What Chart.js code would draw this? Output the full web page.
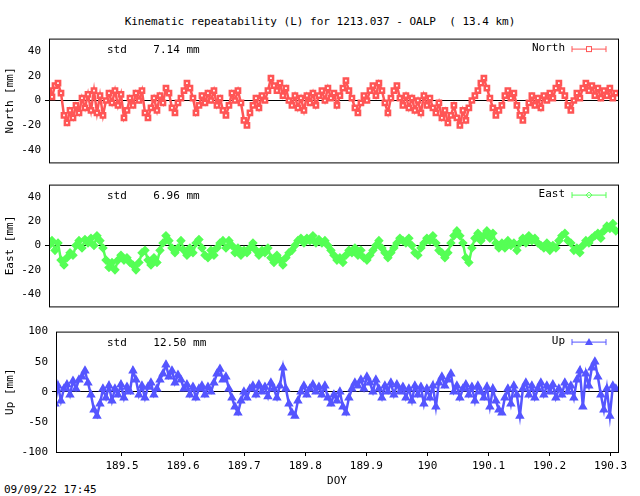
<!DOCTYPE html>
<html>
<head>
<meta charset="utf-8">
<script src="https://cdn.jsdelivr.net/npm/chart.js@4"></script>
<style>
  body { margin: 0; background: #fff; width: 640px; height: 496px; position: relative; overflow: hidden; font-family: "DejaVu Sans Mono", monospace; }
  canvas { position: absolute; left: 0; }
  .txt { position: absolute; font-size: 11px; color: #000; white-space: pre; }
</style>
</head>
<body>
<div class="txt" style="left:0;width:640px;text-align:center;top:15px;">Kinematic repeatability (L) for 1213.037 - OALP  ( 13.4 km)</div>
<div class="txt" style="left:4px;top:483px;">09/09/22 17:45</div>
<div style="position:absolute;left:0;top:28px;width:640px;height:145px;"><canvas id="north"></canvas></div>
<div style="position:absolute;left:0;top:174px;width:640px;height:143px;"><canvas id="east"></canvas></div>
<div style="position:absolute;left:0;top:321px;width:640px;height:171px;"><canvas id="up"></canvas></div>
<script>
// Время: первая эпоха и шаг (сутки)
const T0 = 189.3805;
const DT = 0.00491;

const northValues = [8, 3, 12, 14, 6, -12, -18, -8, -14, -4, -10, 2, -6, 5, -8, 8, -10, 4, -12, 0, 6, -2, 8, -4, 5, -14, -8, 2, -4, 6, 0, 8, -10, -14, -6, 2, -8, 4, -2, 10, 6, -6, -10, -2, 2, 8, 14, 10, 2, -10, -4, 4, -2, 6, 0, 8, -4, 2, -8, -12, -4, 6, 0, 8, -2, -16, -20, -10, -4, 2, -6, 4, 0, 8, 18, 12, 8, 14, 4, 10, 0, -4, 4, -6, 2, -8, 4, -2, 6, -4, 4, 8, 0, 10, 2, 6, -4, 4, 10, 16, 8, 2, -6, -10, -2, 4, 0, 8, 12, 4, 14, 8, -2, -10, 2, 8, 12, 2, -4, 4, -6, 2, -8, 0, -10, 4, -4, 2, -6, -10, -2, -14, -8, -18, -12, -4, -14, -20, -8, -16, -6, 0, 4, 8, 14, 18, 10, 2, -6, -12, -8, -4, 4, 8, 2, 6, -4, -12, -16, -8, -2, 4, -4, 2, -6, 4, 0, 6, 2, 10, 14, 8, 4, -4, -8, 0, 6, 2, 10, 14, 8, 12, 4, 10, 2, 8, 4, 10, 2, 6];
const eastValues = [0, 4, -4, 2, -12, -16, -10, -6, -8, 0, 4, -2, 5, 2, 6, 0, 8, 4, -2, -12, -18, -14, -20, -12, -8, -12, -10, -14, -16, -20, -14, -6, -4, -12, -16, -10, -14, -4, 2, 8, 4, -2, -6, -2, 4, -4, -8, -2, -6, 2, 5, -2, -8, -10, -4, -8, -2, 2, 4, -2, 4, 0, -6, -2, -8, -4, -6, -2, 2, -4, -8, -4, -6, -2, -10, -14, -8, -12, -16, -10, -6, -4, 0, 4, 6, 2, 6, 4, 8, 2, 5, 2, 4, 0, -4, -8, -12, -10, -14, -8, -4, -6, -2, -8, -4, -10, -12, -8, -4, 0, 4, -2, -6, -10, -6, -2, 2, 6, 4, 2, 6, 0, -6, -8, -2, 2, 6, 4, 8, 2, -4, -6, -10, -6, 2, 8, 12, 8, 2, -10, -14, -2, 6, 10, 4, 8, 12, 6, 10, 2, -2, 2, -2, 4, 0, 2, -4, 2, 6, 2, 8, 4, 6, 2, 0, -2, 2, -4, 0, -2, 4, 8, 10, 4, 2, -4, -2, -6, 0, 4, 2, 6, 8, 10, 6, 12, 16, 14, 18, 12];
const upValues = [-10, 5, -20, 10, -15, 5, 12, -5, 18, 5, 20, 25, 35, 15, -5, -30, -40, -20, 5, -10, 10, -15, 5, -5, 12, -10, 8, 0, 35, 20, -5, 10, -10, 8, 15, -5, 5, 20, 30, 45, 25, 35, 15, 28, 20, 5, 12, -5, 8, -10, 5, 10, -5, 8, 0, 15, 30, 38, 20, 25, 5, -10, -25, -35, -15, 0, -10, 5, 10, -5, 12, 0, 8, -8, 15, 5, -10, 10, 40, 5, -20, -35, -40, -15, 0, 10, -5, 5, 12, 0, 8, -5, 10, -10, -20, -5, -15, 0, -25, -35, -10, 5, 15, 10, 20, 5, 25, 15, 0, 20, 5, -10, 10, 0, 15, -5, 12, 0, 8, -10, 5, -15, 10, -5, 8, -20, 5, -10, 10, -25, 15, 25, 10, 20, 30, 0, 10, -10, 5, 12, -5, 8, -15, 10, 0, -10, 8, -25, 5, -15, -30, -35, -10, 5, -20, 10, -5, -40, 5, 15, -5, 10, -10, 5, 15, -5, 10, 0, 12, -10, 5, -5, 15, 0, 10, -10, 20, 35, -25, 30, 10, 40, 50, 25, -5, -30, 5, -40, 10, 5];

const xTicks = [189.5, 189.6, 189.7, 189.8, 189.9, 190.0, 190.1, 190.2, 190.3];
const neTicks = [-40, -20, 0, 20, 40];
const upTicks = [-100, -50, 0, 50, 100];

const FONT = { family: "DejaVu Sans Mono", size: 11 };
Chart.defaults.font = FONT;
Chart.defaults.color = "#000";

function toPoints(values) {
    return values.map((v, i) => ({ x: T0 + i * DT, y: v }));
}

// Рамка, подпись std и легенда в стиле gnuplot
const framePlugin = {
    id: "frame",
    afterDraw(chart, args, opts) {
        const { ctx, chartArea: a } = chart;
        ctx.save();
        ctx.strokeStyle = "#000";
        ctx.lineWidth = 1;
        ctx.strokeRect(a.left + 0.5, a.top + 0.5, a.width, a.height);
        ctx.font = "11px 'DejaVu Sans Mono'";
        ctx.fillStyle = "#000";
        ctx.textBaseline = "middle";
        ctx.fillText(opts.std, 107, a.top + 12);
        ctx.textAlign = "right";
        ctx.fillText(opts.name, 565, a.top + 10);
        ctx.strokeStyle = opts.color;
        ctx.fillStyle = opts.color;
        const y = a.top + 10.5;
        ctx.beginPath();
        ctx.moveTo(572, y); ctx.lineTo(606, y);
        ctx.moveTo(572, y - 3); ctx.lineTo(572, y + 3);
        ctx.moveTo(606, y - 3); ctx.lineTo(606, y + 3);
        ctx.stroke();
        if (opts.marker === "rect") {
            ctx.fillStyle = "#fff";
            ctx.fillRect(586, y - 3, 6, 6);
            ctx.strokeRect(586.5, y - 2.5, 5, 5);
        } else if (opts.marker === "diamond") {
            ctx.beginPath();
            ctx.moveTo(589, y - 3); ctx.lineTo(592, y); ctx.lineTo(589, y + 3); ctx.lineTo(586, y);
            ctx.closePath(); ctx.stroke();
        } else {
            ctx.beginPath();
            ctx.moveTo(589, y - 4); ctx.lineTo(593, y + 3); ctx.lineTo(585, y + 3);
            ctx.closePath(); ctx.fill();
        }
        ctx.restore();
    },
};

function makePanel(id, cfg) {
    return new Chart(document.getElementById(id), {
        type: "line",
        data: {
            datasets: [
                {
                    data: toPoints(cfg.values),
                    borderColor: cfg.color,
                    backgroundColor: cfg.fill,
                    borderWidth: 2.5,
                    pointStyle: cfg.pointStyle,
                    pointRadius: cfg.radius,
                    pointBorderColor: cfg.color,
                    pointBackgroundColor: cfg.fill,
                    tension: 0,
                },
            ],
        },
        options: {
            responsive: true,
            maintainAspectRatio: false,
            animation: false,
            events: [],
            layout: { padding: { right: 22, top: 0, bottom: 0 } },
            plugins: {
                legend: { display: false },
                tooltip: { enabled: false },
                frame: { std: cfg.std, name: cfg.name, color: cfg.color, marker: cfg.marker },
            },
            scales: {
                x: {
                    type: "linear",
                    min: cfg.xMin,
                    max: 190.312,
                    display: cfg.showX,
                    afterBuildTicks: (s) => { s.ticks = xTicks.map((v) => ({ value: v })); },
                    afterFit: (s) => { if (cfg.showX) s.height = 40; },
                    grid: { drawOnChartArea: false, tickLength: 4, color: "#000" },
                    border: { display: false },
                    ticks: { padding: 4, maxRotation: 0, callback: (v) => String(Number(v.toFixed(1))) },
                    title: { display: true, text: "DOY", padding: { top: 0 } },
                },
                y: {
                    min: -cfg.yMax,
                    max: cfg.yMax,
                    afterBuildTicks: (s) => { s.ticks = cfg.yTicks.map((v) => ({ value: v })); },
                    afterFit: (s) => { s.width = cfg.left; },
                    grid: {
                        tickLength: 4,
                        color: (c) => (c.tick && c.tick.value === 0 ? "#000" : "rgba(0,0,0,0)"),
                    },
                    border: { display: false },
                    ticks: { padding: 4 },
                    title: { display: true, text: cfg.label, padding: { bottom: 6 } },
                },
            },
        },
        plugins: [framePlugin],
    });
}

makePanel("north", {
    values: northValues, color: "#ff5555", fill: "#ffffff", pointStyle: "rect", radius: 3,
    std: "std    7.14 mm", name: "North", marker: "rect", yMax: 50, yTicks: neTicks,
    label: "North [mm]", left: 49, xMin: T0, showX: false,
});
makePanel("east", {
    values: eastValues, color: "#55ff55", fill: "#55ff55", pointStyle: "rectRot", radius: 3,
    std: "std    6.96 mm", name: "East", marker: "diamond", yMax: 50, yTicks: neTicks,
    label: "East [mm]", left: 49, xMin: T0, showX: false,
});
makePanel("up", {
    values: upValues, color: "#5555ff", fill: "#5555ff", pointStyle: "triangle", radius: 3,
    std: "std    12.50 mm", name: "Up", marker: "triangle", yMax: 100, yTicks: upTicks,
    label: "Up [mm]", left: 56, xMin: 189.392, showX: true,
});
</script>
</body>
</html>
